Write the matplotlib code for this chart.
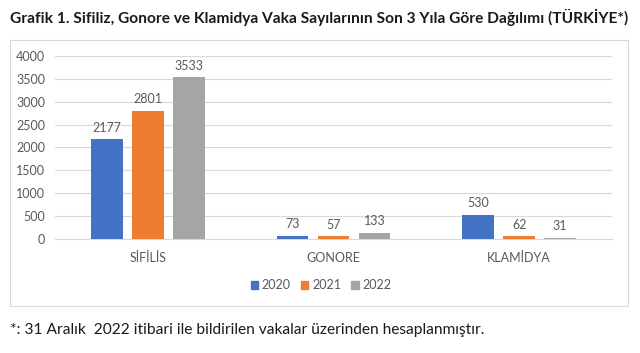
import matplotlib
matplotlib.use("Agg")
import matplotlib.pyplot as plt
from matplotlib.patches import Rectangle
import numpy as np

plt.rcParams['font.family'] = ['Lato', 'DejaVu Sans']

categories = ["SİFİLİS", "GONORE", "KLAMİDYA"]
years = ["2020", "2021", "2022"]
values = {
    "2020": [2177, 73, 530],
    "2021": [2801, 57, 62],
    "2022": [3533, 133, 31],
}
colors = ["#4472C4", "#ED7D31", "#A5A5A5"]
title = "Grafik 1. Sifiliz, Gonore ve Klamidya Vaka Sayılarının Son 3 Yıla Göre Dağılımı (TÜRKİYE*)"
footnote = "*: 31 Aralık  2022 itibari ile bildirilen vakalar üzerinden hesaplanmıştır."

W, H = 640, 353
fig = plt.figure(figsize=(W / 100, H / 100), dpi=100)
fig.patch.set_facecolor("white")

# chart frame
fig.patches.append(Rectangle((10 / W, 1 - 306 / H), 618 / W, 266 / H,
                             transform=fig.transFigure, fill=False,
                             edgecolor="#D9D9D9", linewidth=0.8))

ax = fig.add_axes([55 / W, 1 - 239 / H, 557 / W, 183 / H])
x = np.arange(len(categories))
bw = 0.172
step = 0.221
text_col = "#595959"
for i, (yr, col) in enumerate(zip(years, colors)):
    pos = x + (i - 1) * step
    ax.bar(pos, values[yr], width=bw, color=col, zorder=3)
    for p, v in zip(pos, values[yr]):
        ax.text(p, v + 120, str(v), ha="center", va="bottom",
                fontsize=9, color=text_col)

ax.set_xlim(-0.5, 2.5)
ax.set_ylim(0, 4000)
ax.set_yticks(np.arange(0, 4001, 500))
ax.set_yticklabels([str(t) for t in range(0, 4001, 500)])
ax.yaxis.grid(True, color="#D9D9D9", linewidth=0.8, zorder=0)
ax.set_xticks(x)
ax.set_xticklabels(categories)
ax.tick_params(axis="both", length=0, colors=text_col, labelsize=9)
ax.tick_params(axis="x", pad=9)
ax.tick_params(axis="y", pad=7)
for s in ["top", "right", "left"]:
    ax.spines[s].set_visible(False)
ax.spines["bottom"].set_color("#D9D9D9")
ax.spines["bottom"].set_linewidth(0.8)

handles = [Rectangle((0, 0), 1, 1, color=c) for c in colors]
fig.legend(handles, years, loc="center", bbox_to_anchor=(321 / W, 1 - 285 / H),
           ncol=3, frameon=False, fontsize=9, handlelength=0.6, handleheight=0.6,
           handletextpad=0.3, columnspacing=0.8, labelcolor=text_col)

fig.text(10 / W, 1 - 17 / H, title, fontsize=11.2, fontweight="bold",
         ha="left", va="center", color="#1a1a1a")
fig.text(10 / W, 1 - 330 / H, footnote, fontsize=11.2, ha="left", va="center",
         color="#1a1a1a")

fig.savefig("out.png", dpi=100)
